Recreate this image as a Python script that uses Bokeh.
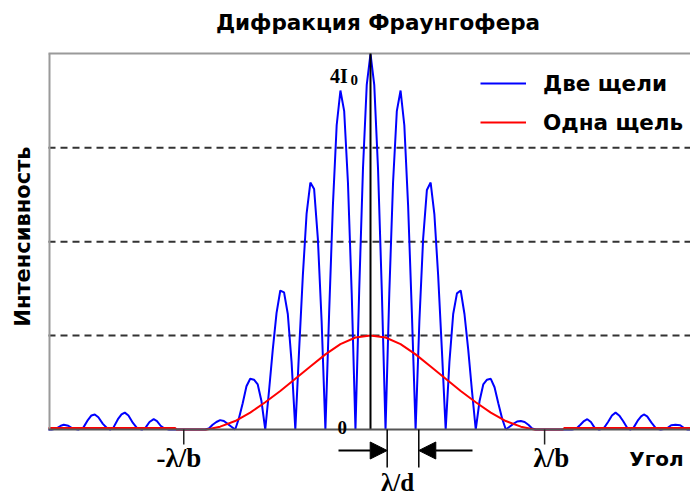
from math import pi
from bokeh.plotting import figure
from bokeh.models import (ColumnDataSource, Legend, LegendItem, Label, Arrow, NormalHead)
from bokeh.embed import file_html
from bokeh.resources import INLINE

# ---------------- data (angle in units of lambda/d, intensity in units of I0) ----------------
blue_x_left = [-10.71, -10.6, -10.45, -10.3, -10.2, -10.05, -9.9, -9.72, -9.55, -9.4, -9.28, -9.17,
               -9.05, -8.9, -8.75, -8.65, -8.55, -8.4, -8.28, -8.17, -8.05, -7.9, -7.75, -7.6,
               -7.48, -7.35, -7.21, -7.1, -6.98, -6.85, -6.7, -5.5]
blue_y_left = [0.0, 0.0, 0.01, 0.04, 0.05, 0.04, 0.01, 0.0, 0.02, 0.10, 0.15, 0.16,
               0.13, 0.06, 0.01, 0.0, 0.02, 0.11, 0.16, 0.18, 0.15, 0.07, 0.01, 0.0,
               0.02, 0.08, 0.11, 0.09, 0.04, 0.01, 0.0, 0.0]

blue_x_mid = [-5.375, -5.25, -5.125, -5.0, -4.875, -4.75, -4.625, -4.5, -4.375, -4.25, -4.125, -4.0,
              -3.875, -3.75, -3.625, -3.5, -3.375, -3.25, -3.125, -3.0, -2.875, -2.75, -2.625, -2.5,
              -2.375, -2.25, -2.125, -2.0, -1.875, -1.75, -1.625, -1.5, -1.375, -1.25, -1.125, -1.0,
              -0.875, -0.75, -0.625, -0.5, -0.375, -0.25, -0.125, 0.0, 0.125, 0.25, 0.375, 0.5,
              0.625, 0.75, 0.875, 1.0, 1.125, 1.25, 1.375, 1.5, 1.625, 1.75, 1.875, 2.0,
              2.125, 2.25, 2.375, 2.5, 2.625, 2.75, 2.875, 3.0, 3.125, 3.25, 3.375, 3.5,
              3.625, 3.75, 3.875, 4.0, 4.125, 4.25, 4.375, 4.5, 4.625, 4.75, 4.875, 5.0,
              5.125, 5.25, 5.375]
blue_y_mid = [0.01, 0.05, 0.08, 0.10, 0.09, 0.06, 0.03, 0.0, 0.12, 0.28, 0.46, 0.54,
              0.53, 0.48, 0.30, 0.0, 0.41, 0.85, 1.24, 1.48, 1.46, 1.23, 0.72, 0.0,
              0.84, 1.64, 2.30, 2.63, 2.56, 2.03, 1.15, 0.0, 1.25, 2.39, 3.24, 3.61,
              3.39, 2.63, 1.45, 0.0, 1.49, 2.78, 3.67, 4.00, 3.67, 2.78, 1.49, 0.0,
              1.45, 2.63, 3.39, 3.61, 3.24, 2.39, 1.25, 0.0, 1.15, 2.03, 2.55, 2.63,
              2.29, 1.64, 0.84, 0.0, 0.72, 1.23, 1.45, 1.48, 1.23, 0.85, 0.41, 0.0,
              0.30, 0.48, 0.53, 0.54, 0.45, 0.28, 0.12, 0.0, 0.03, 0.06, 0.085, 0.09,
              0.08, 0.05, 0.01]

blue_x_right = [5.5, 6.7, 6.85, 6.98, 7.1, 7.21, 7.33, 7.45, 7.6, 7.75, 7.9, 8.03, 8.15, 8.27,
                8.4, 8.55, 8.65, 8.75, 8.9, 9.0, 9.09, 9.2, 9.35, 9.5, 9.65, 9.85, 10.0,
                10.14, 10.3, 10.45, 10.55, 10.64]
blue_y_right = [0.0, 0.0, 0.01, 0.05, 0.09, 0.11, 0.08, 0.02, 0.0, 0.01, 0.08, 0.15, 0.18, 0.15,
                0.09, 0.01, 0.0, 0.02, 0.10, 0.14, 0.16, 0.14, 0.07, 0.01, 0.0, 0.01, 0.045,
                0.05, 0.045, 0.01, 0.0, 0.0]

red_x = [-10.71, -6.5, -6.45, -5.45, -5.0, -4.5, -4.0, -3.5, -3.0, -2.5, -2.0, -1.5, -1.0, -0.5,
         0.0, 0.5, 1.0, 1.5, 2.0, 2.5, 3.0, 3.5, 4.0, 4.5, 5.0, 5.45, 6.4, 6.45, 10.64]
red_y = [0.015, 0.015, 0.0, 0.0, 0.03, 0.09, 0.18, 0.29, 0.41, 0.54, 0.67, 0.80, 0.91, 0.98,
         1.00, 0.98, 0.91, 0.80, 0.67, 0.54, 0.41, 0.29, 0.18, 0.09, 0.03, 0.0, 0.0, 0.015, 0.015]

grid_levels = [1, 2, 3]
y_top = 4.004
series_names = ["Две щели", "Одна щель"]
lam_b_ticks = [-6.21, 5.79]       # -λ/b, λ/b
lam_b_labels = ["-λ/b", "λ/b"]
lam_d_marks = [0.555, 1.606]      # two neighbouring minima

# ---------------- layout helpers (pixel -> data, for annotations only) ----------------
PX0, PXU = 370.0, 30.07           # window pixel of angle 0, pixels per lambda/d
PY0, PYU = 429.0, 93.9            # window pixel of intensity 0, pixels per I0


def ux(px):
    return (px - PX0) / PXU


def uy(py):
    return (PY0 - py) / PYU


X_LEFT, X_RIGHT = ux(48), ux(690)

p = figure(width=690, height=497, x_range=(ux(0), ux(690)), y_range=(uy(497), uy(0)),
           x_axis_type=None, y_axis_type=None,
           output_backend="svg", toolbar_location=None,
           min_border_left=0, min_border_right=0, min_border_top=0, min_border_bottom=0)
p.outline_line_color = None
p.background_fill_color = "white"
p.border_fill_color = "white"
p.xgrid.visible = False
p.ygrid.visible = False

# dashed reference levels
p.segment(x0=[X_LEFT] * len(grid_levels), x1=[X_RIGHT] * len(grid_levels),
          y0=grid_levels, y1=grid_levels, line_color="#333333", line_dash="7 5", line_width=2)

blue_src = ColumnDataSource(dict(x=blue_x_left + blue_x_mid + blue_x_right,
                                 y=blue_y_left + blue_y_mid + blue_y_right))
red_src = ColumnDataSource(dict(x=red_x, y=red_y))

blue_r = p.line("x", "y", source=blue_src, line_color="#0000ff", line_width=2)
red_r = p.line("x", "y", source=red_src, line_color="#ff0000", line_width=2)


def seg(x0, y0, x1, y1, color="black", width=1.5):
    p.add_layout(Arrow(x_start=x0, y_start=y0, x_end=x1, y_end=y1, start=None, end=None,
                       line_color=color, line_width=width))


# frame lines
seg(ux(49), 0, ux(49), y_top, "#9a9a9a", 2)          # left border
seg(X_LEFT, uy(53), X_RIGHT, uy(53), "#9a9a9a", 2)   # top border
seg(0, 0, 0, y_top, "black", 2)                       # central line
seg(X_LEFT, 0, X_RIGHT, 0, "#555555", 2)              # baseline

# ±λ/b ticks
for t in lam_b_ticks:
    seg(t, 0, t, uy(444), "#222222", 1.5)

legend = Legend(items=[LegendItem(label=series_names[0], renderers=[blue_r]),
                       LegendItem(label=series_names[1], renderers=[red_r])],
                location=(480, 362), glyph_width=46, glyph_height=26, label_height=26,
                label_standoff=17, spacing=13, padding=0, margin=0,
                border_line_color=None, background_fill_alpha=0,
                label_text_font="DejaVu Sans", label_text_font_style="bold",
                label_text_font_size="21.5px", label_text_color="black")
p.add_layout(legend)

SANS = "DejaVu Sans"
SERIF = "Liberation Serif"

# title and axis labels
p.add_layout(Label(x=ux(377.5), y=uy(22), text="Дифракция Фраунгофера", text_align="center",
                   text_baseline="middle", text_font=SANS, text_font_style="bold",
                   text_font_size="21.5px", text_color="black"))
p.add_layout(Label(x=ux(22), y=uy(236), text="Интенсивность", angle=pi / 2, text_align="center",
                   text_baseline="middle", text_font=SANS, text_font_style="bold",
                   text_font_size="21px", text_color="black"))
p.add_layout(Label(x=ux(656), y=uy(458), text="Угол", text_align="center", text_baseline="middle",
                   text_font=SANS, text_font_style="bold", text_font_size="20px", text_color="black"))

# serif annotations
p.add_layout(Label(x=ux(178.5), y=uy(457), text=lam_b_labels[0], text_align="center",
                   text_baseline="middle", text_font=SERIF, text_font_style="bold",
                   text_font_size="27px", text_color="black"))
p.add_layout(Label(x=ux(551), y=uy(457), text=lam_b_labels[1], text_align="center",
                   text_baseline="middle", text_font=SERIF, text_font_style="bold",
                   text_font_size="27px", text_color="black"))
p.add_layout(Label(x=ux(397), y=uy(482), text="λ/d", text_align="center", text_baseline="middle",
                   text_font=SERIF, text_font_style="bold", text_font_size="25px", text_color="black"))
p.add_layout(Label(x=ux(341.7), y=uy(427), text="0", text_align="center", text_baseline="middle",
                   text_font=SERIF, text_font_style="bold", text_font_size="19px", text_color="black"))
p.add_layout(Label(x=ux(329.5), y=uy(75), text="4I", text_align="left", text_baseline="middle",
                   text_font=SERIF, text_font_style="bold", text_font_size="20px", text_color="black"))
p.add_layout(Label(x=ux(350), y=uy(79), text="0", text_align="left", text_baseline="middle",
                   text_font=SERIF, text_font_style="bold", text_font_size="15px", text_color="black"))

# λ/d markers and arrows
for m in lam_d_marks:
    seg(m, 0, m, uy(467), "black", 1.5)
p.add_layout(Arrow(x_start=ux(338), y_start=uy(450), x_end=lam_d_marks[0], y_end=uy(450),
                   line_color="black", line_width=2,
                   end=NormalHead(size=17, fill_color="black", line_color="black")))
p.add_layout(Arrow(x_start=ux(472), y_start=uy(450), x_end=lam_d_marks[1], y_end=uy(450),
                   line_color="black", line_width=2,
                   end=NormalHead(size=17, fill_color="black", line_color="black")))

open("out.html", "w").write(file_html(p, INLINE))
